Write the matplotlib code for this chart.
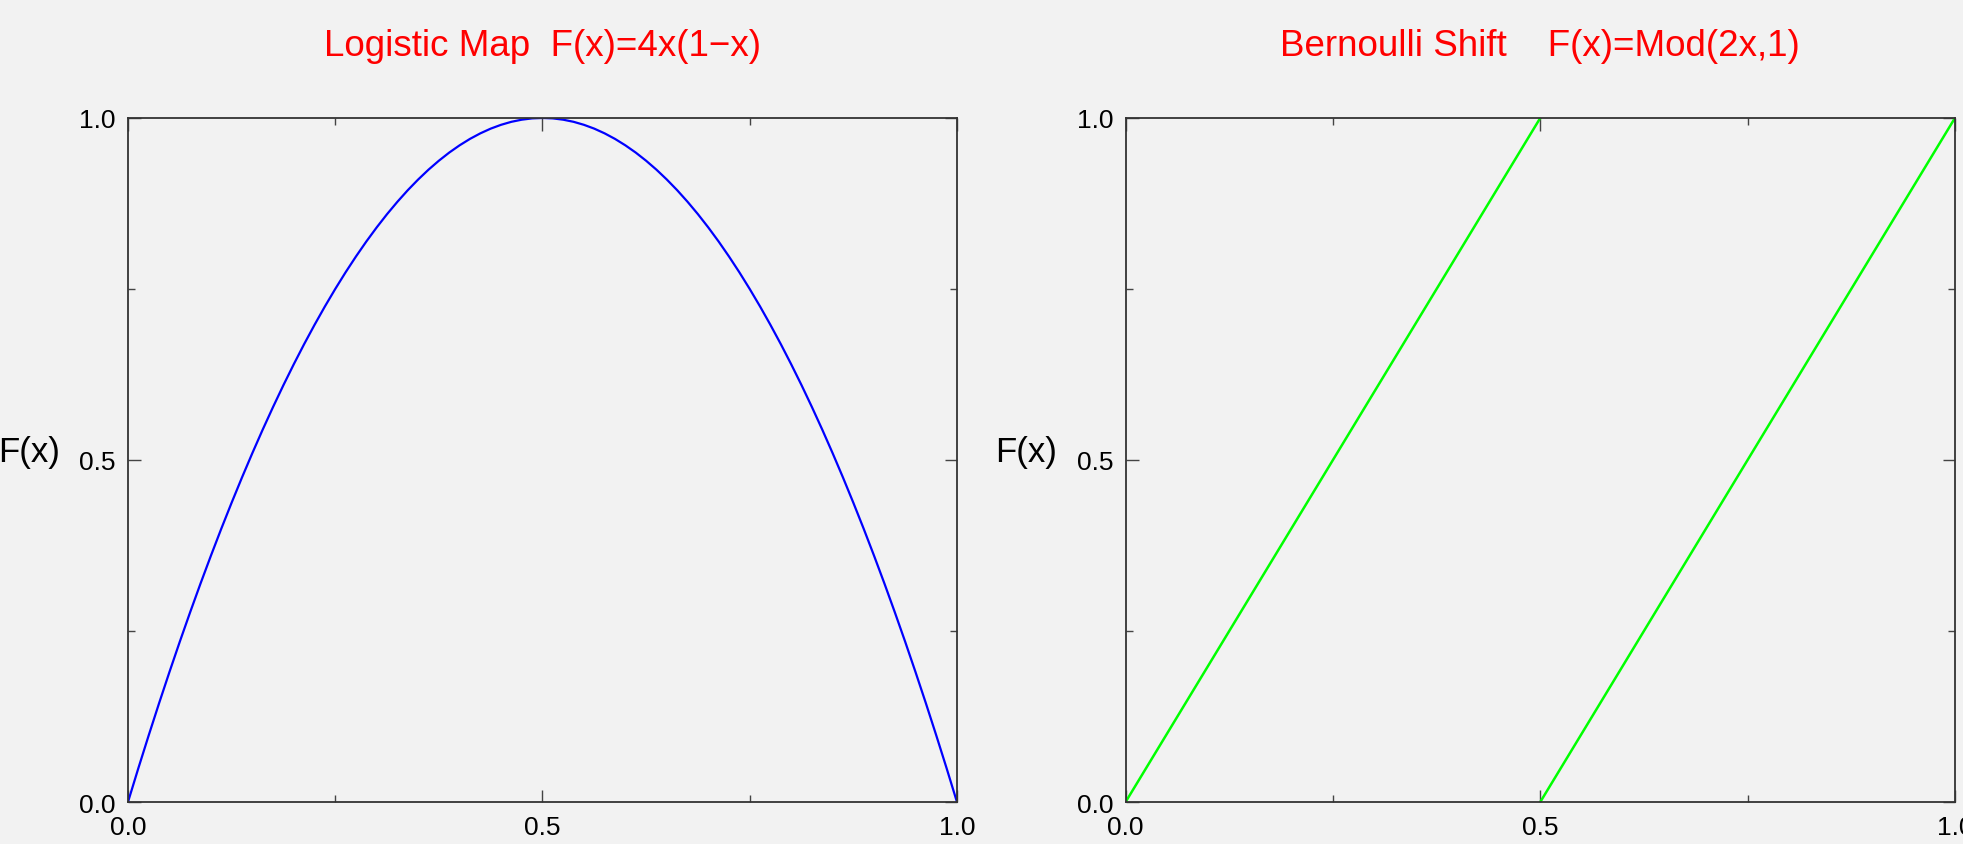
import numpy as np
import matplotlib.pyplot as plt

# Logistic map samples, F(x)
logistic_x = [0.0, 0.0125, 0.025, 0.0375, 0.05, 0.0625, 0.075, 0.0875, 0.1, 0.1125,
              0.125, 0.1375, 0.15, 0.1625, 0.175, 0.1875, 0.2, 0.2125, 0.225, 0.2375,
              0.25, 0.2625, 0.275, 0.2875, 0.3, 0.3125, 0.325, 0.3375, 0.35, 0.3625,
              0.375, 0.3875, 0.4, 0.4125, 0.425, 0.4375, 0.45, 0.4625, 0.475, 0.4875,
              0.5, 0.5125, 0.525, 0.5375, 0.55, 0.5625, 0.575, 0.5875, 0.6, 0.6125,
              0.625, 0.6375, 0.65, 0.6625, 0.675, 0.6875, 0.7, 0.7125, 0.725, 0.7375,
              0.75, 0.7625, 0.775, 0.7875, 0.8, 0.8125, 0.825, 0.8375, 0.85, 0.8625,
              0.875, 0.8875, 0.9, 0.9125, 0.925, 0.9375, 0.95, 0.9625, 0.975, 0.9875, 1.0]
logistic_y = [0.0, 0.0494, 0.0975, 0.1444, 0.19, 0.2344, 0.2775, 0.3194, 0.36, 0.3994,
              0.4375, 0.4744, 0.51, 0.5444, 0.5775, 0.6094, 0.64, 0.6694, 0.6975, 0.7244,
              0.75, 0.7744, 0.7975, 0.8194, 0.84, 0.8594, 0.8775, 0.8944, 0.91, 0.9244,
              0.9375, 0.9494, 0.96, 0.9694, 0.9775, 0.9844, 0.99, 0.9944, 0.9975, 0.9994,
              1.0, 0.9994, 0.9975, 0.9944, 0.99, 0.9844, 0.9775, 0.9694, 0.96, 0.9494,
              0.9375, 0.9244, 0.91, 0.8944, 0.8775, 0.8594, 0.84, 0.8194, 0.7975, 0.7744,
              0.75, 0.7244, 0.6975, 0.6694, 0.64, 0.6094, 0.5775, 0.5444, 0.51, 0.4744,
              0.4375, 0.3994, 0.36, 0.3194, 0.2775, 0.2344, 0.19, 0.1444, 0.0975, 0.0494, 0.0]

# Bernoulli shift, two branches (NaN breaks the line)
bernoulli_x = [0.0, 0.5, np.nan, 0.5, 1.0]
bernoulli_y = [0.0, 1.0, np.nan, 0.0, 1.0]

major_ticks = [0.0, 0.5, 1.0]
minor_ticks = [0.25, 0.75]
tick_labels = ['0.0', '0.5', '1.0']

titles = ['Logistic Map  F(x)=4x(1\u2212x)', 'Bernoulli Shift    F(x)=Mod(2x,1)']

BG = '#f2f2f2'
plt.rcParams['font.family'] = ['Liberation Sans', 'DejaVu Sans']

fig = plt.figure(figsize=(19.63, 8.45), dpi=100, facecolor=BG)
ax1 = fig.add_axes([0.0652, 0.0497, 0.4223, 0.8095])
ax2 = fig.add_axes([0.5734, 0.0497, 0.4225, 0.8095])

ax1.plot(logistic_x, logistic_y, '-', color='#0000ff', lw=1.6)
ax2.plot(bernoulli_x, bernoulli_y, '-', color='#00ff00', lw=1.8)

for ax, title in zip([ax1, ax2], titles):
    ax.set_facecolor(BG)
    ax.set_xlim(0, 1)
    ax.set_ylim(0, 1)
    ax.set_xticks(major_ticks)
    ax.set_yticks(major_ticks)
    ax.set_xticks(minor_ticks, minor=True)
    ax.set_yticks(minor_ticks, minor=True)
    ax.set_xticklabels(tick_labels)
    ax.set_yticklabels(tick_labels)
    ax.tick_params(which='major', direction='in', top=True, right=True, length=9,
                   width=1, color='#444444', labelsize=19, pad=9)
    ax.tick_params(which='minor', direction='in', top=True, right=True, length=5,
                   width=1, color='#444444')
    for spine in ax.spines.values():
        spine.set_linewidth(1.3)
        spine.set_color('#333333')
    ax.set_title(title, color='red', fontsize=26.5, pad=45)
    ax.set_ylabel('F(x)', rotation=0, fontsize=25, ha='left', va='center')
    ax.yaxis.set_label_coords(-0.157, 0.513)

fig.savefig('out.png', dpi=100, facecolor=BG)
